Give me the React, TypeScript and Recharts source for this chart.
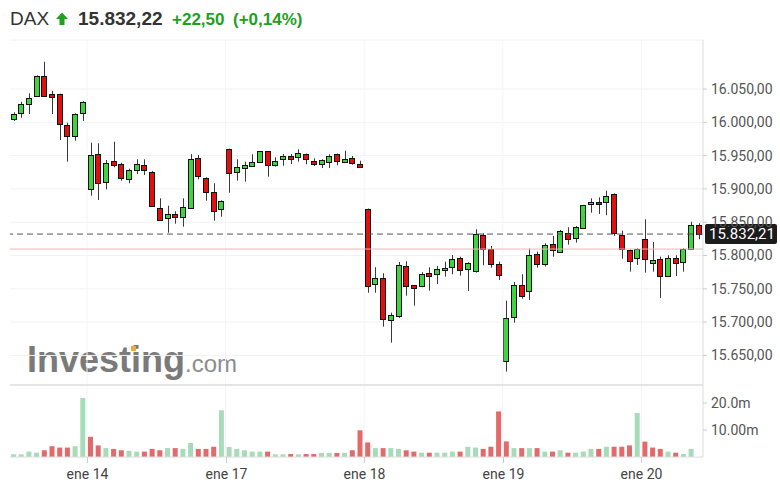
import React from 'react';
import {
  ComposedChart,
  BarChart,
  Bar,
  XAxis,
  YAxis,
  CartesianGrid,
  ReferenceLine,
  Cell,
} from 'recharts';

// 30-min candles, DAX, 13–20 Jan
const opens = [
  16005.0, 16014.4, 16027.5, 16039.9, 16069.5, 16042.5, 16042.5, 15995.5, 15979.9, 16013.5,
  15899.4, 15952.0, 15910.0, 15941.5, 15937.4, 15914.5, 15928.4, 15935.9, 15925.9, 15871.4,
  15856.4, 15862.8, 15857.4, 15870.9, 15946.9, 15916.9, 15895.8, 15869.4, 15959.9, 15925.4,
  15931.0, 15934.9, 15940.4, 15956.5, 15935.5, 15944.5, 15949.0, 15948.4, 15952.4, 15942.4,
  15937.0, 15940.9, 15952.4, 15940.9, 15946.9, 15937.9, 15869.9, 15756.9, 15766.8, 15702.8,
  15709.3, 15783.9, 15755.4, 15754.8, 15773.8, 15772.3, 15777.9, 15783.3, 15796.8, 15779.4,
  15777.3, 15830.9, 15810.3, 15787.3, 15642.2, 15708.2, 15755.4, 15746.8, 15802.3, 15786.9,
  15816.9, 15805.8, 15834.3, 15825.9, 15840.9, 15877.4, 15880.8, 15880.8, 15892.4, 15830.9,
  15808.3, 15795.9, 15824.4, 15788.8, 15794.8, 15769.8, 15796.8, 15790.8, 15809.4, 15845.4,
];
const highs = [
  16015.0, 16030.9, 16043.5, 16070.5, 16091.0, 16047.4, 16043.0, 15999.4, 16013.5, 16031.5,
  15969.4, 15968.5, 15943.4, 15970.9, 15939.4, 15930.4, 15944.5, 15944.5, 15927.0, 15885.9,
  15874.8, 15866.4, 15885.9, 15952.4, 15950.9, 15917.5, 15908.5, 15883.0, 15960.5, 15944.5,
  15940.9, 15952.0, 15957.0, 15957.0, 15947.5, 15952.4, 15952.4, 15959.5, 15953.0, 15946.0,
  15944.5, 15952.0, 15953.0, 15957.4, 15949.4, 15942.4, 15870.5, 15782.4, 15773.4, 15714.2,
  15790.3, 15791.4, 15756.0, 15774.9, 15782.4, 15784.3, 15790.8, 15800.8, 15798.3, 15789.8,
  15839.4, 15833.4, 15814.3, 15790.8, 15732.2, 15760.3, 15771.9, 15810.3, 15805.8, 15818.4,
  15829.4, 15838.4, 15842.4, 15844.3, 15876.0, 15885.9, 15887.4, 15897.4, 15893.4, 15837.3,
  15809.0, 15810.9, 15854.4, 15820.3, 15798.3, 15800.4, 15800.4, 15810.9, 15850.8, 15848.4,
];
const lows = [
  16002.0, 16006.9, 16012.5, 16039.5, 16038.4, 16012.5, 15973.4, 15940.9, 15972.4, 16002.0,
  15889.8, 15883.4, 15899.4, 15932.5, 15912.4, 15908.5, 15922.4, 15920.9, 15874.0, 15852.0,
  15834.3, 15847.8, 15843.3, 15870.0, 15914.5, 15882.3, 15852.3, 15858.3, 15894.3, 15912.4,
  15910.9, 15934.0, 15940.0, 15918.4, 15933.4, 15934.9, 15937.4, 15940.9, 15937.0, 15934.4,
  15931.4, 15931.4, 15935.5, 15940.5, 15936.4, 15933.0, 15744.2, 15744.2, 15693.2, 15669.2,
  15706.3, 15739.7, 15724.7, 15752.4, 15747.3, 15757.3, 15768.3, 15771.9, 15769.8, 15746.8,
  15774.3, 15785.4, 15781.8, 15763.3, 15625.7, 15699.2, 15735.2, 15733.3, 15781.8, 15783.3,
  15798.3, 15804.3, 15816.3, 15819.3, 15840.0, 15864.3, 15862.4, 15860.4, 15829.4, 15795.3,
  15775.8, 15785.8, 15774.3, 15775.8, 15736.3, 15769.5, 15769.3, 15775.8, 15809.0, 15824.4,
];
const closes = [
  16012.5, 16027.5, 16036.0, 16069.5, 16039.9, 16038.0, 15997.0, 15979.9, 16012.5, 16030.9,
  15950.5, 15908.5, 15939.4, 15936.4, 15916.0, 15928.4, 15937.4, 15928.4, 15874.8, 15852.9,
  15862.4, 15858.3, 15873.3, 15944.5, 15919.9, 15895.4, 15867.3, 15882.3, 15923.5, 15933.4,
  15935.9, 15940.0, 15956.5, 15935.5, 15942.4, 15949.0, 15944.5, 15954.4, 15944.5, 15937.9,
  15943.0, 15949.0, 15942.4, 15944.9, 15938.5, 15933.4, 15754.8, 15766.8, 15704.3, 15710.3,
  15785.4, 15754.8, 15750.9, 15772.3, 15769.8, 15779.4, 15781.8, 15794.8, 15777.9, 15789.3,
  15832.4, 15810.3, 15786.9, 15771.3, 15706.7, 15755.4, 15739.7, 15800.4, 15786.9, 15815.4,
  15807.9, 15837.3, 15824.8, 15843.3, 15875.4, 15880.8, 15877.4, 15889.4, 15833.4, 15809.4,
  15792.3, 15809.4, 15794.4, 15793.3, 15769.8, 15796.8, 15789.3, 15809.4, 15845.4, 15832.2,
];
// volume in millions
const volumes = [
  1.0, 1.0, 2.0, 1.6, 2.5, 4.0, 3.5, 3.5, 4.0, 21.9,
  7.5, 4.3, 3.3, 3.0, 2.5, 2.3, 2.0, 2.0, 3.0, 2.5,
  3.3, 3.3, 3.0, 5.2, 3.0, 3.0, 3.8, 17.3, 3.7, 3.0,
  2.5, 2.0, 2.0, 2.0, 1.0, 1.0, 1.1, 1.0, 1.1, 1.1,
  1.5, 1.5, 1.5, 1.5, 2.5, 9.9, 5.4, 3.3, 3.3, 3.3,
  3.0, 2.5, 2.0, 1.6, 1.6, 1.6, 1.6, 2.0, 2.0, 3.8,
  3.5, 3.0, 3.8, 16.9, 5.8, 3.3, 3.3, 3.3, 3.3, 2.0,
  2.0, 2.5, 1.6, 1.6, 2.0, 3.0, 3.0, 3.8, 3.8, 3.8,
  4.3, 16.3, 5.7, 3.5, 3.0, 2.0, 1.6, 1.1, 3.0, 0,
];

const dayStarts = [10, 28, 46, 64, 82];
const dayLabels = ['ene 14', 'ene 17', 'ene 18', 'ene 19', 'ene 20'];
const priceTicks = [15650, 15700, 15750, 15800, 15850, 15900, 15950, 16000, 16050];
const volumeTicks = [10, 20];
const volumeTickLabels = ['10.00m', '20.0m'];
const lastPrice = 15832.21;
const prevClose = 15809.72;

const W = 780;
const LEFT = 10;
const AXIS_W = 77;
const BAND = (W - LEFT - AXIS_W) / opens.length;

const GREEN = '#3fd43f';
const RED = '#e30e0e';
const VOL_GREEN = '#a8dbb9';
const VOL_RED = '#e26a6a';
const AXIS_FONT = 'Roboto, sans-serif';
const TITLE_FONT = 'Liberation Sans, Arial, sans-serif';

const data = opens.map((o, i) => ({
  i,
  open: o,
  high: highs[i],
  low: lows[i],
  close: closes[i],
  vol: volumes[i],
  up: i === 0 ? true : closes[i] >= closes[i - 1],
}));

const fmtPrice = (v: number) => {
  const [int, dec] = v.toFixed(2).split('.');
  return int.replace(/\B(?=(\d{3})+(?!\d))/g, '.') + ',' + dec;
};

const Candle = (props: any) => {
  const { x, y, width, height, payload } = props;
  const { open, close, high, low } = payload;
  const span = high - low || 1;
  const toY = (v: number) => y + ((high - v) / span) * height;
  const cx = Math.round(x + width / 2);
  const top = Math.round(toY(Math.max(open, close))) + 0.5;
  const bot = Math.round(toY(Math.min(open, close))) + 0.5;
  return (
    <g>
      <line x1={cx + 0.5} x2={cx + 0.5} y1={y} y2={y + height} stroke="#3a3a3a" strokeWidth={1} />
      <rect
        x={cx - 2.5}
        y={top}
        width={5}
        height={Math.max(bot - top, 1)}
        fill={close >= open ? GREEN : RED}
        stroke="#111"
        strokeWidth={1}
      />
    </g>
  );
};

const PriceTag = (props: any) => {
  const { viewBox } = props;
  const x = viewBox.x + viewBox.width + 2;
  const y = viewBox.y;
  return (
    <g>
      <rect x={x} y={y - 10} width={72} height={20} fill="#1c1c1c" rx={2} />
      <text x={x + 4} y={y + 5} fill="#fff" fontSize={15} fontFamily={AXIS_FONT}>
        {fmtPrice(lastPrice)}
      </text>
    </g>
  );
};

const DayTick = (props: any) => {
  const { x, y, payload } = props;
  const k = dayStarts.indexOf(payload.value);
  const lx = Math.round(x - BAND / 2) + 0.5;
  return (
    <g>
      <line x1={lx} x2={lx} y1={y - 8} y2={y - 2} stroke="#ccc" />
      <text x={lx} y={y + 14} textAnchor="middle" fill="#444" fontSize={14} fontFamily={AXIS_FONT}>
        {dayLabels[k]}
      </text>
    </g>
  );
};

const Header = () => (
  <svg width={W} height={36} style={{ position: 'absolute', left: 0, top: 0 }}>
    <text x={10} y={25} fontSize={19} fontFamily={TITLE_FONT} fill="#333">
      DAX
    </text>
    <path d="M56 19 L62 12.5 L68 19 L64.5 19 L64.5 25 L59.5 25 L59.5 19 Z" fill="#1fa01f" />
    <text x={78} y={25} fontSize={19} fontWeight="bold" fontFamily={TITLE_FONT} fill="#333">
      15.832,22
    </text>
    <text x={172} y={25} fontSize={17} fontWeight="bold" fontFamily={TITLE_FONT} fill="#1fa01f">
      +22,50
    </text>
    <text x={233} y={25} fontSize={17} fontWeight="bold" fontFamily={TITLE_FONT} fill="#1fa01f">
      (+0,14%)
    </text>
  </svg>
);

const Watermark = () => (
  <svg width={260} height={60} style={{ position: 'absolute', left: 0, top: 330 }}>
    <text x={27} y={42} fontSize={36} fontWeight="bold" fontFamily={TITLE_FONT} fill="#7a7a7a">
      Investing
      <tspan fontSize={24} fontWeight="normal" fill="#8c8c8c">.com</tspan>
    </text>
    <rect x={131} y={16} width={5} height={5} fill="#f3a63a" />
  </svg>
);

export default function App() {
  return (
    <div style={{ position: 'absolute', left: 0, top: 0, width: W, height: 490, background: '#fff' }}>
      <Header />
      <Watermark />
      <div style={{ position: 'absolute', left: 0, top: 0 }}>
        <ComposedChart
          width={W}
          height={385}
          data={data}
          margin={{ top: 40, right: 0, bottom: 0, left: LEFT }}
          barCategoryGap={0}
        >
          <CartesianGrid vertical={false} stroke="#f2f2f2" />
          <XAxis dataKey="i" type="category" hide />
          <YAxis
            orientation="right"
            type="number"
            width={AXIS_W}
            domain={[15605.6, 16123.6]}
            allowDataOverflow
            ticks={priceTicks}
            tickFormatter={fmtPrice}
            axisLine={{ stroke: '#dcdcdc' }}
            tickLine={{ stroke: '#ccc' }}
            tickSize={4}
            tickMargin={4}
            tick={{ fill: '#555', fontSize: 14, fontFamily: AXIS_FONT }}
          />
          {dayStarts.map((d) => (
            <ReferenceLine key={d} x={d} position="start" stroke="#f5f5f5" />
          ))}
          <ReferenceLine y={prevClose} stroke="#f3b3b3" />
          <ReferenceLine y={lastPrice} stroke="#555" strokeDasharray="6 4" label={<PriceTag />} />
          <Bar
            dataKey={(d: any) => [d.low, d.high]}
            shape={<Candle />}
            barSize={7}
            isAnimationActive={false}
          />
        </ComposedChart>
      </div>
      <div style={{ position: 'absolute', left: 0, top: 0 }}>
        <BarChart
          width={W}
          height={490}
          data={data}
          margin={{ top: 385, right: 0, bottom: 0, left: LEFT }}
          barCategoryGap={0}
        >
          <XAxis
            dataKey="i"
            type="category"
            ticks={dayStarts}
            interval={0}
            tick={<DayTick />}
            tickLine={false}
            axisLine={{ stroke: '#dcdcdc' }}
            height={33}
          />
          <YAxis
            orientation="right"
            type="number"
            width={AXIS_W}
            domain={[0, 26.7]}
            allowDataOverflow
            ticks={volumeTicks}
            tickFormatter={(v: number) => volumeTickLabels[volumeTicks.indexOf(v)]}
            axisLine={{ stroke: '#dcdcdc' }}
            tickLine={{ stroke: '#ccc' }}
            tickSize={4}
            tickMargin={4}
            tick={{ fill: '#555', fontSize: 14, fontFamily: AXIS_FONT }}
          />
          {dayStarts.map((d) => (
            <ReferenceLine key={d} x={d} position="start" stroke="#f3f3f3" />
          ))}
          <ReferenceLine y={26.7} stroke="#cfcfcf" />
          <Bar dataKey="vol" barSize={5} isAnimationActive={false}>
            {data.map((d) => (
              <Cell key={d.i} fill={d.up ? VOL_GREEN : VOL_RED} />
            ))}
          </Bar>
        </BarChart>
      </div>
    </div>
  );
}
